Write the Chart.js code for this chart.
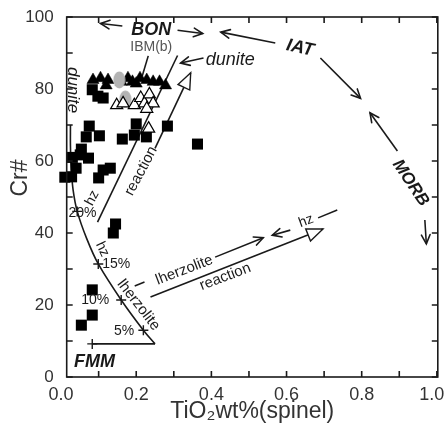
<!DOCTYPE html>
<html>
<head>
<meta charset="utf-8">
<script src="https://cdn.jsdelivr.net/npm/chart.js@4.4.1/dist/chart.umd.min.js"></script>
<style>
  html, body { margin: 0; padding: 0; background: #fff; }
</style>
</head>
<body>
<canvas id="chart" width="446" height="429"></canvas>
<script>
// === ejes ===
const xMin = 0.015, xMax = 1.0025;
const xTickValues = [0, 0.1, 0.2, 0.3, 0.4, 0.5, 0.6, 0.7, 0.8, 0.9, 1.0];
const xTickLabels = ['0.0', '', '0.2', '', '0.4', '', '0.6', '', '0.8', '', '1.0  '];
const yTickValues = [0, 10, 20, 30, 40, 50, 60, 70, 80, 90, 100];
const yTickLabels = ['0', '', '20', '', '40', '', '60', '', '80', '', '100'];

// === muestras (TiO2, Cr#) ===
const squareX = [0.083, 0.098, 0.112, 0.075, 0.067, 0.102, 0.054, 0.2, 0.195, 0.163, 0.227, 0.283, 0.363,
                 0.051, 0.073, 0.04, 0.028, 0.01, 0.1, 0.112, 0.131, 0.03, 0.145, 0.139, 0.083, 0.083, 0.054];
const squareY = [79.8, 78, 77.5, 69.7, 66.7, 67, 63.3, 70.3, 67.2, 66.1, 66.7, 69.7, 64.7,
                 61.7, 60.8, 58, 55.6, 55.5, 55.3, 57.5, 58, 61, 42.5, 40, 24.2, 17.2, 14.4];
const blackTriX = [0.085, 0.105, 0.125, 0.16, 0.178, 0.19, 0.21, 0.228, 0.245, 0.262, 0.278, 0.12, 0.2];
const blackTriY = [82.5, 83, 82.5, 82, 83, 82, 83, 82.5, 82, 82, 81, 81, 81.5];
const openTriX = [0.148, 0.165, 0.195, 0.212, 0.222, 0.235, 0.245, 0.228, 0.233];
const openTriY = [75.5, 76, 75.5, 77.5, 76, 78.5, 76, 74.5, 69];
const ibmX = [0.155, 0.171];
const ibmY = [82.5, 77.2];

// === modelo de fusion FMM ===
const meltCurveX = [0.25, 0.219, 0.16, 0.099, 0.068, 0.043, 0.032, 0.027, 0.025, 0.025];
const meltCurveY = [9.2, 13, 21.4, 31.4, 38.5, 46, 52, 58, 64, 70];
const fmmLineX = [0.083, 0.25];
const fmmLineY = [9.2, 9.2];
const meltMarkX = [0.083, 0.219, 0.16, 0.099, 0.043];
const meltMarkY = [9.2, 13, 21.4, 31.4, 46];

// === flechas [desde, hasta] ===
const bonArrowLeft = [[0.163, 97.5], [0.105, 98.2]];
const bonArrowRight = [[0.31, 96.3], [0.377, 95.4]];
const iatArrowLeft = [[0.57, 92.8], [0.425, 95.8]];
const iatArrowRight = [[0.69, 88.6], [0.797, 77.4]];
const morbArrowUp = [[0.895, 62.8], [0.822, 73.4]];
const morbArrowDown = [[0.968, 43.6], [0.972, 37.0]];
const duniteArrow = [[0.379, 88.6], [0.318, 87.2]];
const ibmPointer = [[0.232, 89.2], [0.216, 83.6]];
const duniteTrend = [[0.097, 43], [0.31, 89.3]];
const reactionUpper = [[0.25, 63.5], [0.345, 84.5]];
const lherzDash = [[0.196, 25.3], [0.222, 26.4]];
const lherzArrow = [[0.41, 33.3], [0.538, 38.7]];
const hzArrow = [[0.61, 40.8], [0.562, 39.4]];
const hzDash = [[0.684, 44.2], [0.735, 46.4]];
const reactionLower = [[0.238, 22.2], [0.697, 41.1]];

// === textos ===
const noteText = ['BON', 'IAT', 'MORB', 'FMM', 'IBM(b)', 'dunite', 'dunite', 'reaction', 'reaction',
                  'lherzolite', 'lherzolite', 'hz', 'hz', 'hz', '20%', '15%', '10%', '5%'];
const noteX = [0.24, 0.636, 0.93, 0.089, 0.24, 0.45, 0.03, 0.213, 0.437, 0.328, 0.206, 0.083, 0.11, 0.652, 0.057, 0.147, 0.091, 0.168];
const noteY = [96.4, 91.4, 53.9, 4.2, 91.7, 88, 79.7, 57.2, 27.8, 29.7, 20, 49.7, 35.5, 43.3, 45.5, 31.4, 21.4, 12.8];

const FONT = 'Liberation Sans, Arial, sans-serif';
const INK = '#1a1a1a';

// estilo de cada texto (mismo orden que noteText)
const noteStyle = [
    { size: 18, weight: 'bold', italic: true, rot: 0 },
    { size: 18, weight: 'bold', italic: true, rot: 12 },
    { size: 17, weight: 'bold', italic: true, rot: 56 },
    { size: 18, weight: 'bold', italic: true, rot: 0 },
    { size: 14, weight: 'normal', italic: false, rot: 0, color: '#555' },
    { size: 18, weight: 'normal', italic: true, rot: 0 },
    { size: 17, weight: 'normal', italic: true, rot: 90 },
    { size: 15, weight: 'normal', italic: false, rot: -62 },
    { size: 15, weight: 'normal', italic: false, rot: -21 },
    { size: 15, weight: 'normal', italic: false, rot: -21 },
    { size: 15, weight: 'normal', italic: false, rot: 52 },
    { size: 14, weight: 'normal', italic: false, rot: -62 },
    { size: 14, weight: 'normal', italic: false, rot: 64 },
    { size: 14, weight: 'normal', italic: false, rot: -20 },
    { size: 14, weight: 'normal', italic: false, rot: 0 },
    { size: 14, weight: 'normal', italic: false, rot: 0 },
    { size: 14, weight: 'normal', italic: false, rot: 0 },
    { size: 14, weight: 'normal', italic: false, rot: 0 }
];

// flechas: que cabeza lleva cada una
const arrows = [
    { seg: bonArrowLeft, head: 'line' },
    { seg: bonArrowRight, head: 'line' },
    { seg: iatArrowLeft, head: 'line' },
    { seg: iatArrowRight, head: 'line' },
    { seg: morbArrowUp, head: 'line' },
    { seg: morbArrowDown, head: 'line' },
    { seg: duniteArrow, head: 'line' },
    { seg: ibmPointer, head: 'none' },
    { seg: duniteTrend, head: 'none' },
    { seg: reactionUpper, head: 'open' },
    { seg: lherzDash, head: 'none' },
    { seg: lherzArrow, head: 'line' },
    { seg: hzArrow, head: 'line' },
    { seg: hzDash, head: 'none' },
    { seg: reactionLower, head: 'open' }
];

function toPoints(xs, ys) {
    return xs.map((x, i) => ({ x: x, y: ys[i] }));
}

function ellipseMark(w, h) {
    const c = document.createElement('canvas');
    c.width = w; c.height = h;
    const g = c.getContext('2d');
    g.fillStyle = '#b3b3b3';
    g.beginPath();
    g.ellipse(w / 2, h / 2, w / 2 - 0.5, h / 2 - 0.5, 0, 0, Math.PI * 2);
    g.fill();
    return c;
}

function lineHead(ctx, x1, y1, x2, y2) {
    const a = Math.atan2(y2 - y1, x2 - x1);
    const len = 10, ang = 0.45;
    ctx.beginPath();
    ctx.moveTo(x2 - len * Math.cos(a - ang), y2 - len * Math.sin(a - ang));
    ctx.lineTo(x2, y2);
    ctx.lineTo(x2 - len * Math.cos(a + ang), y2 - len * Math.sin(a + ang));
    ctx.stroke();
}

function openHead(ctx, x1, y1, x2, y2) {
    const a = Math.atan2(y2 - y1, x2 - x1);
    const len = 16, half = 6.5;
    const bx = x2 - len * Math.cos(a), by = y2 - len * Math.sin(a);
    ctx.beginPath();
    ctx.moveTo(x2, y2);
    ctx.lineTo(bx + half * Math.sin(a), by - half * Math.cos(a));
    ctx.lineTo(bx - half * Math.sin(a), by + half * Math.cos(a));
    ctx.closePath();
    ctx.fillStyle = '#fff';
    ctx.fill();
    ctx.stroke();
}

// marco, ticks hacia adentro, flechas y textos
const decorPlugin = {
    id: 'decor',
    afterDatasetsDraw(chart) {
        const ctx = chart.ctx;
        const xs = chart.scales.x, ys = chart.scales.y;
        const a = chart.chartArea;
        ctx.save();
        ctx.strokeStyle = INK;
        ctx.lineCap = 'round';

        // flechas
        ctx.lineWidth = 1.6;
        arrows.forEach(ar => {
            const x1 = xs.getPixelForValue(ar.seg[0][0]), y1 = ys.getPixelForValue(ar.seg[0][1]);
            const x2 = xs.getPixelForValue(ar.seg[1][0]), y2 = ys.getPixelForValue(ar.seg[1][1]);
            if (ar.head === 'line') lineHead(ctx, x1, y1, x2, y2);
            if (ar.head === 'open') { ctx.lineWidth = 1.4; openHead(ctx, x1, y1, x2, y2); ctx.lineWidth = 1.6; }
        });

        // textos
        noteText.forEach((t, i) => {
            const st = noteStyle[i];
            ctx.save();
            ctx.translate(xs.getPixelForValue(noteX[i]), ys.getPixelForValue(noteY[i]));
            ctx.rotate(st.rot * Math.PI / 180);
            ctx.font = (st.italic ? 'italic ' : '') + st.weight + ' ' + st.size + 'px ' + FONT;
            ctx.textAlign = 'center';
            ctx.textBaseline = 'middle';
            ctx.fillStyle = st.color || INK;
            ctx.fillText(t, 0, 0);
            ctx.restore();
        });

        // marco
        ctx.lineCap = 'butt';
        ctx.lineWidth = 1.6;
        ctx.strokeRect(a.left, a.top, a.right - a.left, a.bottom - a.top);

        // ticks hacia adentro
        const tl = 6;
        ctx.beginPath();
        xTickValues.forEach(v => {
            if (v < xMin) return;
            const p = xs.getPixelForValue(v);
            ctx.moveTo(p, a.bottom); ctx.lineTo(p, a.bottom - tl);
            ctx.moveTo(p, a.top); ctx.lineTo(p, a.top + tl);
        });
        yTickValues.forEach(v => {
            const p = ys.getPixelForValue(v);
            ctx.moveTo(a.left, p); ctx.lineTo(a.left + tl, p);
            ctx.moveTo(a.right, p); ctx.lineTo(a.right - tl, p);
        });
        ctx.stroke();

        // titulo eje y
        ctx.save();
        ctx.translate(21, 178);
        ctx.rotate(-Math.PI / 2);
        ctx.font = '23px ' + FONT;
        ctx.fillStyle = '#333';
        ctx.textAlign = 'center';
        ctx.textBaseline = 'middle';
        ctx.fillText('Cr#', 0, 0);
        ctx.restore();

        ctx.restore();
    }
};

const lineStyle = { showLine: true, pointRadius: 0, borderColor: INK, borderWidth: 1.6, fill: false, clip: false, order: 10 };

const datasets = [
    { data: toPoints(openTriX, openTriY), pointStyle: 'triangle', pointRadius: 7, backgroundColor: '#fff', borderColor: '#000', borderWidth: 1.2, order: 1, clip: false },
    { data: toPoints(ibmX, ibmY), pointStyle: ellipseMark(13, 18), order: 2, clip: false },
    { data: toPoints(blackTriX, blackTriY), pointStyle: 'triangle', pointRadius: 7, backgroundColor: '#000', borderColor: '#000', borderWidth: 0.5, order: 3, clip: false },
    { data: toPoints(squareX, squareY), pointStyle: 'rect', pointRadius: 7.8, backgroundColor: '#000', borderColor: '#000', borderWidth: 0, order: 4, clip: false },
    Object.assign({ data: toPoints(meltCurveX, meltCurveY), tension: 0.35 }, lineStyle),
    Object.assign({ data: toPoints(fmmLineX, fmmLineY) }, lineStyle),
    { data: toPoints(meltMarkX, meltMarkY), pointStyle: 'cross', pointRadius: 5, borderColor: INK, borderWidth: 1.4, order: 9, clip: false }
];
arrows.forEach(ar => {
    datasets.push(Object.assign({ data: ar.seg.map(p => ({ x: p[0], y: p[1] })) }, lineStyle));
});

new Chart(document.getElementById('chart'), {
    type: 'scatter',
    data: { datasets: datasets },
    options: {
        responsive: false,
        animation: false,
        devicePixelRatio: 1,
        layout: { padding: { left: 0, right: 8, top: 17, bottom: 0 } },
        plugins: { legend: { display: false }, tooltip: { enabled: false } },
        scales: {
            x: {
                type: 'linear', min: xMin, max: xMax,
                afterBuildTicks: s => { s.ticks = xTickValues.map(v => ({ value: v })); },
                afterFit: s => { s.height = 52; s.paddingLeft = 0; s.paddingRight = 0; },
                grid: { display: false, drawTicks: false },
                border: { display: false },
                ticks: {
                    autoSkip: false, maxRotation: 0, padding: 7, color: '#333',
                    font: { family: FONT, size: 18 },
                    callback: (v, i) => xTickLabels[i]
                },
                title: {
                    display: true, text: 'TiO₂wt%(spinel)', color: '#333',
                    font: { family: FONT, size: 23 }, padding: { top: 0, bottom: 4 }
                }
            },
            y: {
                type: 'linear', min: 0, max: 100,
                afterBuildTicks: s => { s.ticks = yTickValues.map(v => ({ value: v })); },
                afterFit: s => { s.width = 66.7; s.paddingTop = 0; s.paddingBottom = 0; },
                grid: { display: false, drawTicks: false },
                border: { display: false },
                ticks: {
                    autoSkip: false, padding: 13, color: '#333',
                    font: { family: FONT, size: 17 },
                    callback: (v, i) => yTickLabels[i]
                }
            }
        }
    },
    plugins: [decorPlugin]
});
</script>
</body>
</html>
